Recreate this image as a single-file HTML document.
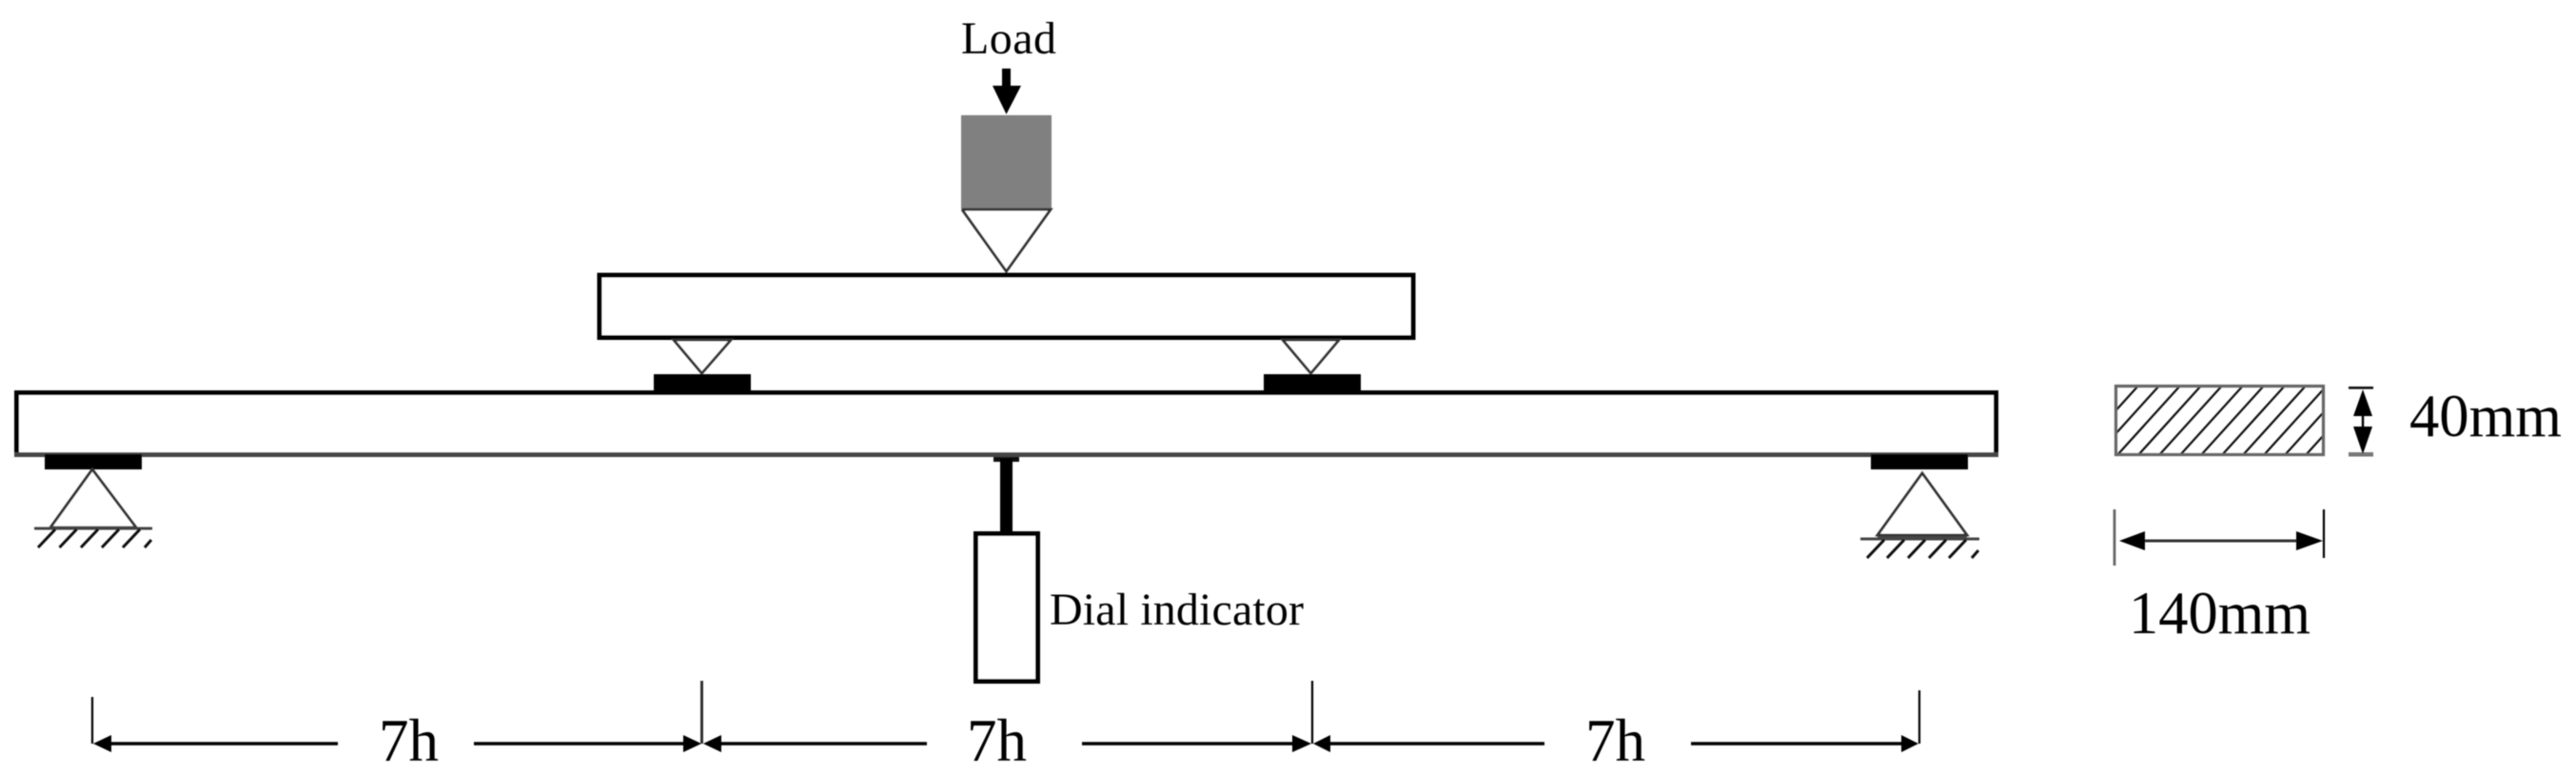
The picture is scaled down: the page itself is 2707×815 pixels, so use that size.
<!DOCTYPE html>
<html>
<head>
<meta charset="utf-8">
<style>
html,body{margin:0;padding:0;background:#fff;width:2707px;height:815px;overflow:hidden}
svg{display:block}
text{font-family:"Liberation Serif","Times New Roman",serif;fill:#000}
</style>
</head>
<body>
<svg width="2707" height="815" viewBox="0 0 2707 815" xmlns="http://www.w3.org/2000/svg">
<rect width="2707" height="815" fill="#fff"/>
<defs>
<filter id="b" x="-5%" y="-5%" width="110%" height="110%"><feGaussianBlur stdDeviation="0.4"/></filter>
<clipPath id="hc"><rect x="2224" y="406" width="217" height="71"/></clipPath>
</defs>
<g filter="url(#b)">
<!-- load -->
<polygon points="1053,72 1062,72 1062,90 1073,90 1057.5,120 1043,90 1053,90" fill="#000"/>
<rect x="1010" y="121" width="95" height="99" fill="#808080"/>
<polyline points="1011,220 1104,220 1057.5,285 1011,220" fill="#fff" stroke="#333" stroke-width="2.8"/>
<!-- top beam -->
<rect x="630" y="289" width="855" height="65.5" fill="#fff" stroke="#000" stroke-width="5"/>
<!-- upper inverted triangles -->
<polygon points="708,357 768,357 737.5,392" fill="#fff" stroke="#333" stroke-width="2.8"/>
<polygon points="1348,357 1407,357 1377.5,392" fill="#fff" stroke="#333" stroke-width="2.8"/>
<!-- lower beam -->
<rect x="17.5" y="412.5" width="2080" height="65" fill="#fff" stroke="#000" stroke-width="5"/>
<line x1="15" y1="477.5" x2="2100" y2="477.5" stroke="#444" stroke-width="5"/>
<!-- pads -->
<rect x="687" y="393" width="102" height="17" fill="#000"/>
<rect x="1328" y="393" width="102" height="17" fill="#000"/>
<rect x="47" y="477" width="102" height="16" fill="#000"/>
<rect x="1966" y="477" width="102" height="16" fill="#000"/>
<!-- left support -->
<polygon points="97,493 53,554 143,554" fill="#fff" stroke="#333" stroke-width="2.8"/>
<line x1="36" y1="555" x2="160" y2="555" stroke="#444" stroke-width="3"/>
<g stroke="#111" stroke-width="3">
<line x1="40" y1="575" x2="58" y2="556"/>
<line x1="62.5" y1="575" x2="80.5" y2="556"/>
<line x1="85" y1="575" x2="103" y2="556"/>
<line x1="107" y1="575" x2="125" y2="556"/>
<line x1="129" y1="575" x2="147" y2="556"/>
<line x1="152" y1="575" x2="159" y2="567"/>
</g>
<!-- right support -->
<polygon points="2020,497 1973,562 2067,562" fill="#fff" stroke="#333" stroke-width="2.8"/>
<line x1="1955" y1="566" x2="2080" y2="566" stroke="#444" stroke-width="3"/>
<line x1="1973" y1="565" x2="2067" y2="565" stroke="#444" stroke-width="4"/>
<g stroke="#111" stroke-width="3">
<line x1="1962" y1="586" x2="1980" y2="567"/>
<line x1="1983" y1="586" x2="2001" y2="567"/>
<line x1="2005" y1="586" x2="2023" y2="567"/>
<line x1="2027" y1="586" x2="2045" y2="567"/>
<line x1="2048" y1="586" x2="2066" y2="567"/>
<line x1="2072" y1="586" x2="2079" y2="578"/>
</g>
<!-- dial indicator -->
<rect x="1044" y="480" width="27" height="5" fill="#111"/>
<rect x="1051" y="482" width="13" height="77" fill="#000"/>
<rect x="1025.5" y="560.5" width="65" height="155" fill="#fff" stroke="#000" stroke-width="5"/>
<!-- section -->
<g clip-path="url(#hc)" stroke="#111" stroke-width="2.2">
<line x1="2158" y1="479" x2="2226" y2="404"/>
<line x1="2180" y1="479" x2="2248" y2="404"/>
<line x1="2202" y1="479" x2="2270" y2="404"/>
<line x1="2224" y1="479" x2="2292" y2="404"/>
<line x1="2246" y1="479" x2="2314" y2="404"/>
<line x1="2268" y1="479" x2="2336" y2="404"/>
<line x1="2290" y1="479" x2="2358" y2="404"/>
<line x1="2312" y1="479" x2="2380" y2="404"/>
<line x1="2334" y1="479" x2="2402" y2="404"/>
<line x1="2356" y1="479" x2="2424" y2="404"/>
<line x1="2378" y1="479" x2="2446" y2="404"/>
<line x1="2400" y1="479" x2="2468" y2="404"/>
<line x1="2422" y1="479" x2="2490" y2="404"/>
</g>
<rect x="2223.5" y="405.5" width="218" height="72" fill="none" stroke="#666" stroke-width="3.2"/>
<!-- vertical dim -->
<rect x="2468" y="406" width="26" height="2.6" fill="#111"/>
<rect x="2468" y="475" width="26" height="4.5" fill="#777"/>
<line x1="2483" y1="430" x2="2483" y2="455" stroke="#000" stroke-width="2.4"/>
<polygon points="2483,409 2493,437 2473,437" fill="#000"/>
<polygon points="2483,477 2493,448 2473,448" fill="#000"/>
<!-- horizontal section dim -->
<line x1="2222" y1="535" x2="2222" y2="594" stroke="#666" stroke-width="2.8"/>
<line x1="2442" y1="535" x2="2442" y2="586" stroke="#000" stroke-width="2.2"/>
<line x1="2250" y1="568" x2="2416" y2="568" stroke="#333" stroke-width="3"/>
<polygon points="2227,568 2254,558 2254,578" fill="#000"/>
<polygon points="2441,568 2413,558 2413,578" fill="#000"/>
<!-- bottom dims -->
<g stroke="#000" fill="none">
<line x1="97" y1="732" x2="97" y2="781" stroke-width="2.2"/>
<line x1="737.5" y1="715" x2="737.5" y2="781" stroke="#333" stroke-width="3"/>
<line x1="1379" y1="715" x2="1379" y2="781" stroke-width="2.2"/>
<line x1="2017" y1="725" x2="2017" y2="781" stroke-width="2.2"/>
<line x1="110" y1="781" x2="355" y2="781" stroke-width="3.6"/>
<line x1="498" y1="781" x2="722" y2="781" stroke-width="3.6"/>
<line x1="752" y1="781" x2="974" y2="781" stroke-width="3.6"/>
<line x1="1137" y1="781" x2="1362" y2="781" stroke-width="3.6"/>
<line x1="1394" y1="781" x2="1623" y2="781" stroke-width="3.6"/>
<line x1="1777" y1="781" x2="2002" y2="781" stroke-width="3.6"/>
</g>
<g fill="#000">
<polygon points="98,781 117,772 117,790"/>
<polygon points="737,781 718,772 718,790"/>
<polygon points="739,781 758,772 758,790"/>
<polygon points="1378,781 1358,772 1358,790"/>
<polygon points="1380,781 1398,772 1398,790"/>
<polygon points="2016,781 1998,772 1998,790"/>
</g>
<!-- labels -->
<text x="1010" y="56" font-size="48" textLength="100" lengthAdjust="spacing">Load</text>
<text x="1103" y="656" font-size="48" textLength="267" lengthAdjust="spacing">Dial indicator</text>
<text x="2532" y="458" font-size="63" textLength="160" lengthAdjust="spacingAndGlyphs">40mm</text>
<text x="2237" y="665" font-size="63" textLength="191" lengthAdjust="spacingAndGlyphs">140mm</text>
<text x="398" y="799" font-size="63">7h</text>
<text x="1016" y="799" font-size="63">7h</text>
<text x="1666" y="799" font-size="63">7h</text>
</g>
</svg>
</body>
</html>
